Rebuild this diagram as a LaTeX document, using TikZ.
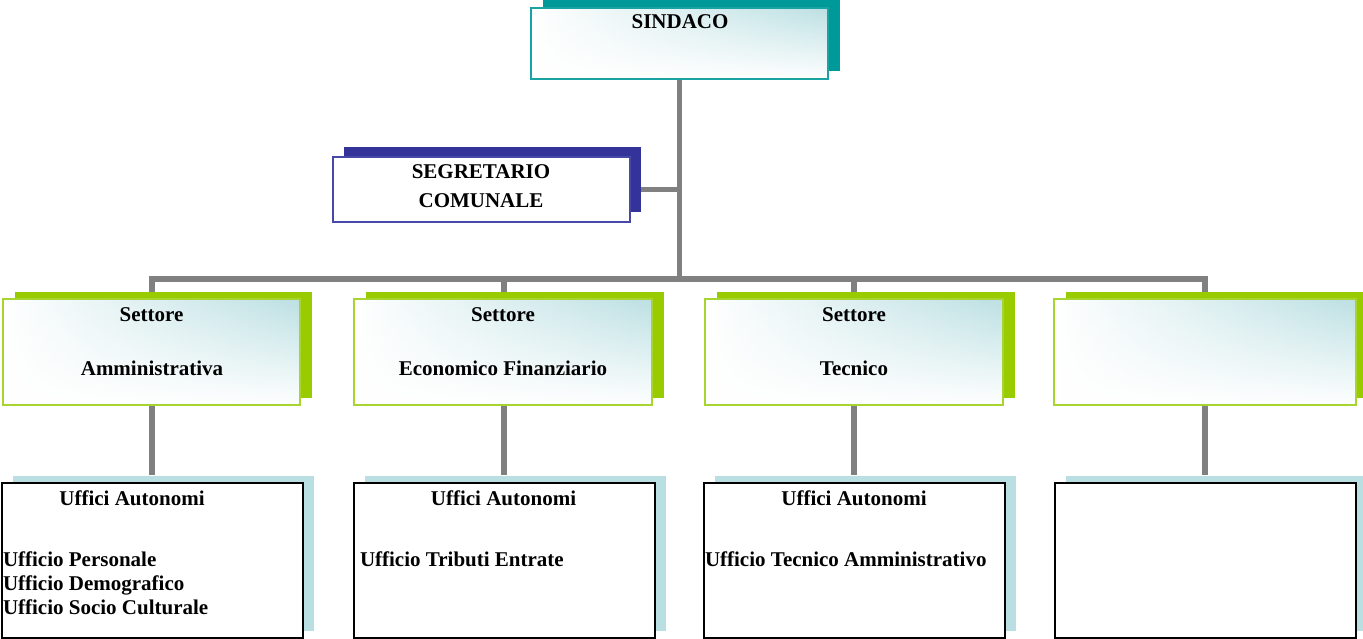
\documentclass[tikz,border=0pt]{standalone}
\usepackage{fontspec}
\setmainfont{Liberation Serif}
\usetikzlibrary{shadows,fadings,backgrounds}
\definecolor{tealS}{HTML}{009999}
\definecolor{tealB}{HTML}{1AA3A3}
\definecolor{navyS}{HTML}{333399}
\definecolor{navyB}{HTML}{4848A8}
\definecolor{limeS}{HTML}{99CC00}
\definecolor{limeB}{HTML}{A8D430}
\definecolor{pale}{HTML}{B9DFE3}
\definecolor{grad}{HTML}{BCE0E3}
\definecolor{conncol}{HTML}{808080}
\tikzfading[name=botwhite, top color=transparent!100, middle color=transparent!85, bottom color=transparent!0]
\tikzset{
  box/.style={rectangle, inner sep=0pt, outer sep=0pt},
  gradbox/.style={box, left color=white, right color=grad,
    path picture={\fill[white, path fading=botwhite]
      (path picture bounding box.south west) rectangle (path picture bounding box.north east);}},
  sindbox/.style={gradbox, draw=tealB, line width=1.6pt, minimum width=297pt, minimum height=71pt,
    general shadow={fill=tealS, shadow xshift=11.5pt, shadow yshift=8pt}},
  segrbox/.style={box, fill=white, draw=navyB, line width=1.6pt, minimum width=297pt, minimum height=65pt,
    general shadow={fill=navyS, shadow xshift=11pt, shadow yshift=10pt}},
  setbox/.style={gradbox, draw=limeB, line width=1.6pt, minimum height=106pt,
    general shadow={fill=limeS, shadow xshift=11.5pt, shadow yshift=7pt}},
  ufbox/.style={box, fill=white, draw=black, line width=2pt, minimum width=301pt, minimum height=155pt,
    general shadow={fill=pale, shadow xshift=11.5pt, shadow yshift=7.5pt}},
  conn/.style={draw=conncol, line width=5.5pt},
  txt/.style={inner sep=0pt, outer sep=0pt, font=\fontsize{21pt}{24pt}\selectfont\bfseries}
}
\begin{document}
\begin{tikzpicture}[x=1pt,y=-1pt]
\useasboundingbox (0,0) rectangle (1363,639);
% boxes
\node[sindbox] (sind) at (679.5,43.5) {};
\node[segrbox] (segr) at (481.5,189.5) {};
\node[setbox, minimum width=297pt] (s1) at (151.5,352) {};
\node[setbox, minimum width=298pt] (s2) at (503,352) {};
\node[setbox, minimum width=298pt] (s3) at (854,352) {};
\node[setbox, minimum width=302pt] (s4) at (1205,352) {};
\node[ufbox] (u1) at (152,560.5) {};
\node[ufbox] (u2) at (504,560.5) {};
\node[ufbox] (u3) at (854,560.5) {};
\node[ufbox] (u4) at (1205,560.5) {};
\coordinate (bus) at (680,279);
% connectors, drawn behind the boxes
\begin{scope}[on background layer]
\draw[conn] (sind.south) -- (sind.south |- bus);
\draw[conn] (segr.east) -- (segr.east -| sind.south);
\draw[conn] ([yshift=8pt]u1.north) -- (u1.north |- bus) -- (u4.north |- bus) -- ([yshift=8pt]u4.north);
\draw[conn] (u2.north |- bus) -- ([yshift=8pt]u2.north);
\draw[conn] (u3.north |- bus) -- ([yshift=8pt]u3.north);
\end{scope}
% texts
\node[txt, anchor=base] (tsind) at (680,29) {SINDACO};
\node[txt, anchor=base] (tseg1) at (481,179) {SEGRETARIO};
\node[txt, anchor=base] (tseg2) at (481,207.5) {COMUNALE};
\node[txt, anchor=base] (ts1a) at (151.5,321.5) {Settore};
\node[txt, anchor=base] (ts1b) at (152,375) {Amministrativa};
\node[txt, anchor=base] (ts2a) at (503,321.5) {Settore};
\node[txt, anchor=base] (ts2b) at (503,375) {Economico Finanziario};
\node[txt, anchor=base] (ts3a) at (854,321.5) {Settore};
\node[txt, anchor=base] (ts3b) at (854,375) {Tecnico};
\node[txt, anchor=base] (tu1) at (132,505) {Uffici Autonomi};
\node[txt, anchor=base] (tu2) at (503.5,505) {Uffici Autonomi};
\node[txt, anchor=base] (tu3) at (854,505) {Uffici Autonomi};
\node[txt, anchor=base west] (tu1a) at (3,566) {Ufficio Personale};
\node[txt, anchor=base west] (tu1b) at (3,590) {Ufficio Demografico};
\node[txt, anchor=base west] (tu1c) at (3,614) {Ufficio Socio Culturale};
\node[txt, anchor=base west] (tu2a) at (360,566) {Ufficio Tributi Entrate};
\node[txt, anchor=base west] (tu3a) at (705,566) {Ufficio Tecnico Amministrativo};
\end{tikzpicture}
\end{document}
